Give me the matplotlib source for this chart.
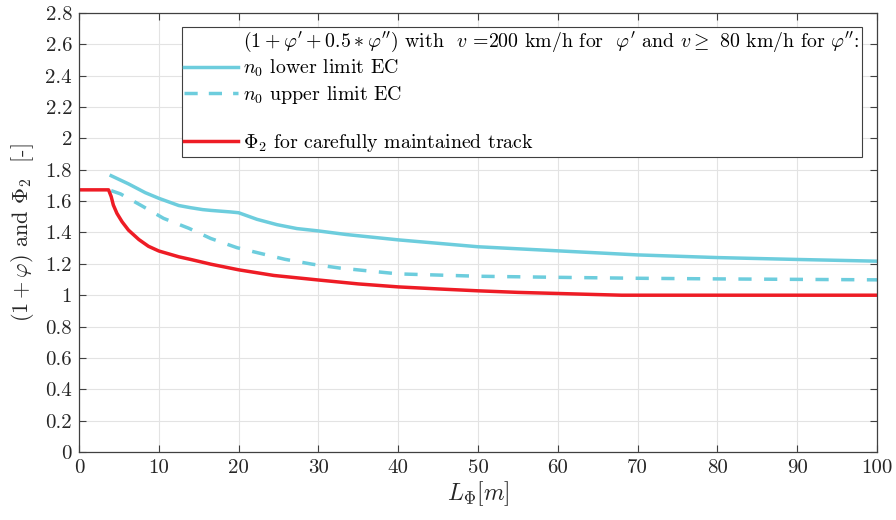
import matplotlib
matplotlib.use("Agg")
import matplotlib.pyplot as plt
from matplotlib.lines import Line2D

plt.rcParams["font.family"] = ["cmr10", "DejaVu Serif"]
plt.rcParams["mathtext.fontset"] = "cm"
plt.rcParams["axes.formatter.use_mathtext"] = True
plt.rcParams["lines.scale_dashes"] = False

# Dynamic factor for carefully maintained track
phi2_L = [0, 3.7, 4.03, 4.3, 4.75, 5.4, 6.2, 7.5, 8.7, 10, 12.5, 14, 15.5, 16.5, 20,
          24.4, 30, 35, 40, 45, 50, 55, 60, 65, 68, 100]
phi2_v = [1.672, 1.672, 1.629, 1.575, 1.522, 1.468, 1.415, 1.355, 1.312, 1.282,
          1.245, 1.228, 1.21, 1.198, 1.162, 1.126, 1.097, 1.072, 1.053, 1.04,
          1.028, 1.018, 1.011, 1.004, 1.0, 1.0]

# (1 + phi' + 0.5 phi''), lower limit of n0
low_L = [4.03, 6.2, 8.3, 10, 12.5, 14, 15.5, 16.5, 19, 20, 22.3, 24.8, 27.3, 30,
         33.5, 40, 50, 60, 70, 80, 90, 100]
low_v = [1.762, 1.71, 1.654, 1.618, 1.572, 1.558, 1.546, 1.541, 1.531, 1.526,
         1.484, 1.45, 1.425, 1.41, 1.387, 1.353, 1.309, 1.283, 1.257, 1.24,
         1.228, 1.217]

# (1 + phi' + 0.5 phi''), upper limit of n0
up_L = [4.03, 5.2, 7.7, 10.6, 13.8, 16.5, 19.8, 22.7, 25.8, 29.2, 32.7, 40, 50,
        60, 70, 80, 90, 100]
up_v = [1.667, 1.646, 1.575, 1.49, 1.426, 1.362, 1.303, 1.267, 1.229, 1.198,
        1.173, 1.136, 1.121, 1.114, 1.108, 1.104, 1.101, 1.098]

x_ticks = [0, 10, 20, 30, 40, 50, 60, 70, 80, 90, 100]
y_ticks = [0, 0.2, 0.4, 0.6, 0.8, 1, 1.2, 1.4, 1.6, 1.8, 2, 2.2, 2.4, 2.6, 2.8]
y_tick_labels = ["0", "0.2", "0.4", "0.6", "0.8", "1", "1.2", "1.4", "1.6", "1.8",
                 "2", "2.2", "2.4", "2.6", "2.8"]

cyan = "#6dcddd"
red = "#ee1c25"
ink = "#404040"
text_col = "#262626"
lw = 2.5

fig = plt.figure(figsize=(8.96, 5.2), dpi=100)
ax = fig.add_axes([0.0882, 0.1308, 0.8906, 0.8442])

ax.plot(low_L, low_v, color=cyan, lw=lw, solid_joinstyle="round")
ax.plot(up_L, up_v, color=cyan, lw=lw, dashes=(9.5, 9.0), dash_joinstyle="round")
ax.plot(phi2_L, phi2_v, color=red, lw=lw, solid_joinstyle="round")

ax.set_xlim(0, 100)
ax.set_ylim(0, 2.8)
ax.set_xticks(x_ticks)
ax.set_xticklabels([str(t) for t in x_ticks])
ax.set_yticks(y_ticks)
ax.set_yticklabels(y_tick_labels)
ax.grid(True, color="#e3e3e3", lw=0.8)
ax.set_axisbelow(True)
ax.tick_params(direction="in", top=True, right=True, length=5, width=0.8,
               colors=ink, labelsize=15, labelcolor=text_col, pad=5)
for s in ax.spines.values():
    s.set_color(ink)
    s.set_linewidth(0.9)

ax.set_xlabel(r"$L_{\Phi}[m]$", fontsize=17, color=text_col, labelpad=2)
ax.set_ylabel(r"$(1+\varphi)$ and $\Phi_2$  [-]", fontsize=16, color=text_col,
              labelpad=7)

blank = Line2D([], [], color="none")
handles = [
    blank,
    Line2D([], [], color=cyan, lw=lw),
    Line2D([], [], color=cyan, lw=lw, dashes=(9.5, 8.0)),
    blank,
    Line2D([], [], color=red, lw=lw),
]
labels = [
    r"$(1+\varphi'+0.5*\varphi'')$ with  $v$ =200 km/h for  $\varphi'$ and $v\geq$ 80 km/h for $\varphi''$:",
    r"$n_0$ lower limit EC",
    r"$n_0$ upper limit EC",
    " ",
    r"$\Phi_2$ for carefully maintained track",
]
leg = ax.legend(handles, labels, loc="upper right", bbox_to_anchor=(0.981, 0.968),
                borderaxespad=0, fontsize=14.3, handlelength=2.7, handletextpad=0.25,
                labelspacing=0.22, borderpad=0.12, fancybox=False, framealpha=1,
                edgecolor=ink)
leg.get_frame().set_linewidth(0.8)

fig.savefig("out.png", dpi=100)
